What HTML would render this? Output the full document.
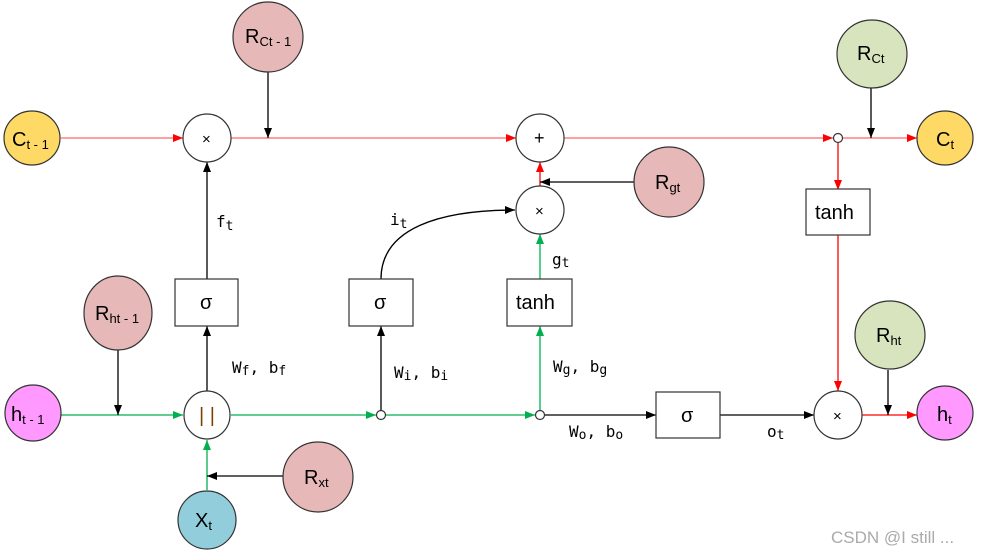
<!DOCTYPE html>
<html><head><meta charset="utf-8"><style>
html,body{margin:0;padding:0;background:#fff}
svg{display:block}
text{font-family:"DejaVu Sans Mono","Liberation Mono",monospace;fill:#000}
.n text{font-family:"Liberation Sans","DejaVu Sans",sans-serif;font-size:20px}
.s{font-size:13px}
</style></head><body>
<svg width="981" height="554" viewBox="0 0 981 554" xmlns="http://www.w3.org/2000/svg">
<defs>
<marker id="ak" markerWidth="10" markerHeight="8" refX="10" refY="4" orient="auto" markerUnits="userSpaceOnUse"><path d="M0,0L10,4L0,8z" fill="#000"/></marker>
<marker id="ar" markerWidth="10" markerHeight="8" refX="10" refY="4" orient="auto" markerUnits="userSpaceOnUse"><path d="M0,0L10,4L0,8z" fill="#f00"/></marker>
<marker id="ag" markerWidth="10" markerHeight="8" refX="10" refY="4" orient="auto" markerUnits="userSpaceOnUse"><path d="M0,0L10,4L0,8z" fill="#00b050"/></marker>
</defs>
<g stroke-width="1.3" fill="none">
<line x1="61" y1="138" x2="183" y2="138" stroke="#f66" marker-end="url(#ar)"/>
<line x1="231" y1="138" x2="516" y2="138" stroke="#f66" marker-end="url(#ar)"/>
<line x1="564" y1="138" x2="833" y2="138" stroke="#f66" marker-end="url(#ar)"/>
<line x1="843" y1="138" x2="917" y2="138" stroke="#f66" marker-end="url(#ar)"/>
<line x1="268" y1="71" x2="268" y2="138" stroke="#000" marker-end="url(#ak)"/>
<line x1="871" y1="88" x2="871" y2="138" stroke="#000" marker-end="url(#ak)"/>
<line x1="838" y1="143" x2="838" y2="190" stroke="#f00" marker-end="url(#ar)"/>
<line x1="838" y1="235" x2="838" y2="391" stroke="#f00" marker-end="url(#ar)"/>
<line x1="207" y1="280" x2="207" y2="162" stroke="#000" marker-end="url(#ak)"/>
<line x1="207" y1="391" x2="207" y2="326" stroke="#000" marker-end="url(#ak)"/>
<line x1="61" y1="415" x2="183" y2="415" stroke="#00b050" marker-end="url(#ag)"/>
<line x1="118" y1="350" x2="118" y2="415" stroke="#000" marker-end="url(#ak)"/>
<line x1="231" y1="415" x2="376" y2="415" stroke="#00b050" marker-end="url(#ag)"/>
<line x1="386" y1="415" x2="535" y2="415" stroke="#00b050" marker-end="url(#ag)"/>
<line x1="545" y1="415" x2="656" y2="415" stroke="#000" marker-end="url(#ak)"/>
<line x1="720" y1="415" x2="814" y2="415" stroke="#000" marker-end="url(#ak)"/>
<line x1="862" y1="415" x2="917" y2="415" stroke="#f00" marker-end="url(#ar)"/>
<line x1="888" y1="370" x2="888" y2="415" stroke="#000" marker-end="url(#ak)"/>
<line x1="207" y1="490" x2="207" y2="440" stroke="#00b050" marker-end="url(#ag)"/>
<line x1="283" y1="476" x2="207" y2="476" stroke="#000" marker-end="url(#ak)"/>
<line x1="381" y1="410" x2="381" y2="326" stroke="#000" marker-end="url(#ak)"/>
<path d="M381,279 C381,228 440,210 515,210" stroke="#000" marker-end="url(#ak)"/>
<line x1="540" y1="410" x2="540" y2="326" stroke="#00b050" marker-end="url(#ag)"/>
<line x1="540" y1="279" x2="540" y2="234" stroke="#00b050" marker-end="url(#ag)"/>
<line x1="540" y1="186" x2="540" y2="162" stroke="#f00" marker-end="url(#ar)"/>
<line x1="634" y1="182" x2="540" y2="182" stroke="#000" marker-end="url(#ak)"/>
</g>
<g stroke="#333" stroke-width="1.2">
<ellipse cx="32" cy="138" rx="28" ry="27" fill="#ffd966"/>
<ellipse cx="945" cy="138" rx="28" ry="27" fill="#ffd966"/>
<ellipse cx="33" cy="413" rx="28" ry="28" fill="#ff99ff"/>
<ellipse cx="945" cy="413" rx="28" ry="27" fill="#ff99ff"/>
<ellipse cx="268" cy="37" rx="35" ry="35" fill="#e6b8b7"/>
<ellipse cx="118" cy="313" rx="34" ry="37" fill="#e6b8b7"/>
<ellipse cx="318" cy="477" rx="35" ry="35" fill="#e6b8b7"/>
<ellipse cx="669" cy="182" rx="35" ry="35" fill="#e6b8b7"/>
<ellipse cx="872" cy="54" rx="35" ry="34" fill="#d7e4bd"/>
<ellipse cx="890" cy="335" rx="35" ry="34" fill="#d7e4bd"/>
<ellipse cx="207" cy="520" rx="29" ry="29" fill="#92cddc"/>
<circle cx="207" cy="138" r="24" fill="#fff"/>
<circle cx="540" cy="138" r="24" fill="#fff"/>
<circle cx="540" cy="210" r="24" fill="#fff"/>
<circle cx="838" cy="415" r="24" fill="#fff"/>
<ellipse cx="207" cy="415" rx="23" ry="24" fill="#fff"/>
<circle cx="381" cy="415" r="4.5" fill="#fff"/>
<circle cx="540" cy="415" r="4.5" fill="#fff"/>
<circle cx="838" cy="138" r="4.5" fill="#fff"/>
<rect x="175" y="279" width="63" height="47" fill="#fff"/>
<rect x="349" y="279" width="64" height="47" fill="#fff"/>
<rect x="507" y="279" width="65" height="47" fill="#fff"/>
<rect x="806" y="189" width="64" height="46" fill="#fff"/>
<rect x="656" y="392" width="64" height="46" fill="#fff"/>
</g>
<g class="n">
<text x="12" y="146">C<tspan class="s" dy="3">t - 1</tspan></text>
<text x="936" y="146">C<tspan class="s" dy="3">t</tspan></text>
<text x="11" y="421">h<tspan class="s" dy="3">t - 1</tspan></text>
<text x="937" y="421">h<tspan class="s" dy="3">t</tspan></text>
<text x="245" y="43">R<tspan class="s" dy="3">Ct - 1</tspan></text>
<text x="95" y="320">R<tspan class="s" dy="3">ht - 1</tspan></text>
<text x="304" y="484">R<tspan class="s" dy="3">xt</tspan></text>
<text x="655" y="189">R<tspan class="s" dy="3">gt</tspan></text>
<text x="857" y="60">R<tspan class="s" dy="3">Ct</tspan></text>
<text x="876" y="342">R<tspan class="s" dy="3">ht</tspan></text>
<text x="195" y="527">X<tspan class="s" dy="3">t</tspan></text>
<text x="200" y="309">σ</text>
<text x="374" y="309">σ</text>
<text x="681" y="422">σ</text>
<text x="516" y="309">tanh</text>
<text x="815" y="219">tanh</text>
<text x="202" y="144" style="font-size:15px">×</text>
<text x="535" y="216" style="font-size:15px">×</text>
<text x="833" y="421" style="font-size:15px">×</text>
<text x="534" y="144" style="font-size:18px">+</text>
<text x="199" y="422" style="fill:#7f3f00;font-size:20px">| |</text>
</g>
<g font-size="16">
<text x="216" y="227">f<tspan class="s" dy="3">t</tspan></text>
<text x="390" y="225">i<tspan class="s" dy="3">t</tspan></text>
<text x="552" y="265">g<tspan class="s" dy="2">t</tspan></text>
<text x="232" y="373">W<tspan class="s" dy="2">f</tspan><tspan dy="-2">, b</tspan><tspan class="s" dy="2">f</tspan></text>
<text x="394" y="378">W<tspan class="s" dy="2">i</tspan><tspan dy="-2">, b</tspan><tspan class="s" dy="2">i</tspan></text>
<text x="553" y="372">W<tspan class="s" dy="2">g</tspan><tspan dy="-2">, b</tspan><tspan class="s" dy="2">g</tspan></text>
<text x="569" y="437">W<tspan class="s" dy="2">o</tspan><tspan dy="-2">, b</tspan><tspan class="s" dy="2">o</tspan></text>
<text x="767" y="437">o<tspan class="s" dy="2">t</tspan></text>
</g>
<text x="831" y="543" style="font-family:'Liberation Sans',sans-serif;font-size:17px;fill:#aaa">CSDN @I still ...</text>
</svg>
</body></html>
